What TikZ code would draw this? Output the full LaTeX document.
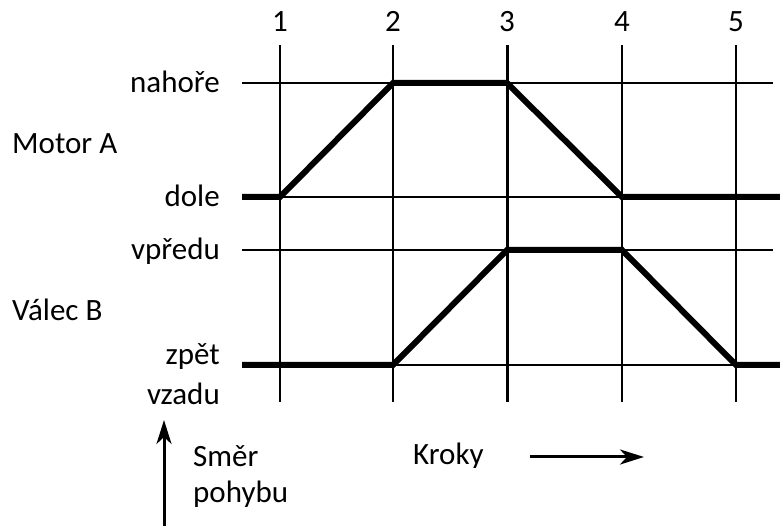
\documentclass[tikz,border=0pt]{standalone}
\usepackage{fontspec}
\setmainfont{Carlito}
\usetikzlibrary{arrows.meta}
\begin{document}
\begin{tikzpicture}[x=1pt,y=-1pt,
  lbl/.style={inner sep=0pt,font=\fontsize{31}{37}\selectfont},
  grid/.style={line width=2pt},
  gridthick/.style={line width=3pt},
  signal/.style={line width=6pt,line join=miter},
  arr/.style={line width=3pt,-{Stealth[length=24pt,width=15pt,inset=7pt]}}]
\useasboundingbox (0,0) rectangle (780,526);
% grid coordinates
\foreach \i/\x in {1/280,2/393,3/507,4/622,5/736}{
  \coordinate (t\i) at (\x,45);
  \coordinate (b\i) at (\x,402);
}
\foreach \n/\y in {up/83,down/197,fwd/250,back/365}{
  \coordinate (L\n) at (242,\y);
  \coordinate (R\n) at (773,\y);
  \coordinate (E\n) at (780,\y);
}
% vertical grid lines
\draw[grid] (t1) -- (b1);
\draw[grid] (t2) -- (b2);
\draw[gridthick] (t3) -- (b3);
\draw[grid] (t4) -- (b4);
\draw[grid] (t5) -- (b5);
% horizontal grid lines
\draw[grid] (Lup) -- (Rup);
\draw[grid] (Ldown) -- (Rdown);
\draw[grid] (Lfwd) -- (Rfwd);
\draw[grid] (Lback) -- (Rback);
% step numbers
\foreach \i/\x in {1/280,2/393,3/507,4/622,5/736}{
  \node[lbl,anchor=base] (n\i) at (\x,32) {\i};
}
% labels
\node[lbl,anchor=base east] (nahore) at (220,93) {nahoře};
\node[lbl,anchor=base west] (motor) at (12,154) {Motor A};
\node[lbl,anchor=base east] (dole) at (220,207) {dole};
\node[lbl,anchor=base east] (vpredu) at (220,260) {vpředu};
\node[lbl,anchor=base west] (valec) at (12,321) {Válec B};
\node[lbl,anchor=base east] (zpet) at (220,365) {zpět};
\node[lbl,anchor=base east] (vzadu) at (220,405) {vzadu};
\node[lbl,anchor=base west] (smer) at (193,467) {Směr};
\node[lbl,anchor=base west] (pohybu) at (193,503) {pohybu};
\begin{scope}
\clip (400,420) rectangle (520,468);
\node[lbl,anchor=base west] (kroky) at (413,465) {Kroky};
\end{scope}
% signals
\draw[signal] (Ldown) -- (280,197) -- (393,83) -- (507,83) -- (622,197) -- (Edown);
\draw[signal] (Lback) -- (393,365) -- (507,250) -- (622,250) -- (736,365) -- (Eback);
% arrows
\coordinate (ka) at (530,457);
\coordinate (kb) at (644,457);
\draw[arr] (ka) -- (kb);
\coordinate (sa) at (164,526);
\coordinate (sb) at (164,420);
\draw[arr] (sa) -- (sb);
\end{tikzpicture}
\end{document}
